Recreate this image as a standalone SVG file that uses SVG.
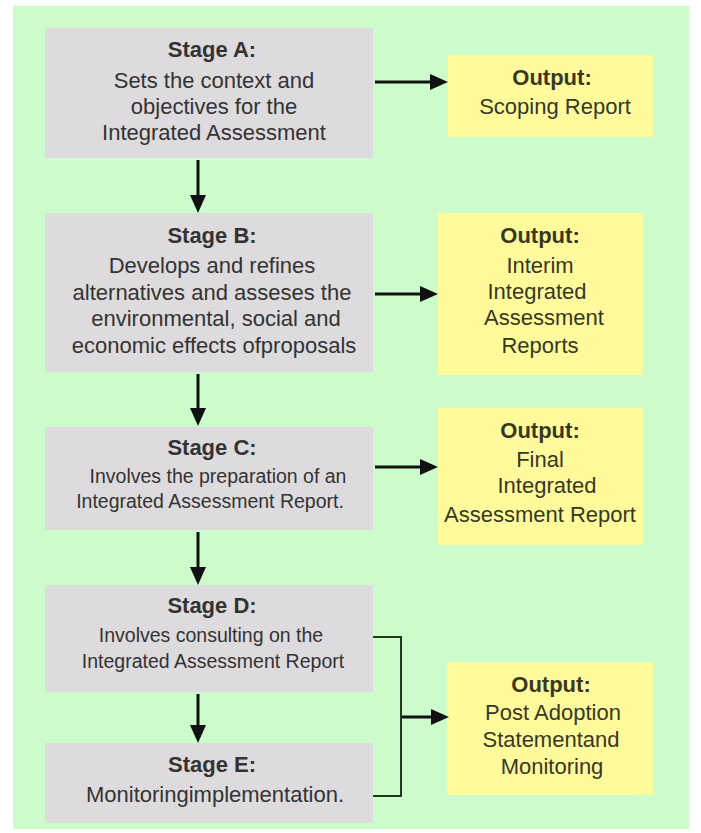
<svg xmlns="http://www.w3.org/2000/svg" width="701" height="833" viewBox="0 0 701 833">
<style>
.stage rect{fill:#dddbdd}
.out rect{fill:#fffb9c}
text{font-family:"Liberation Sans",Arial,sans-serif;text-anchor:middle;font-size:22px}
.stage text{fill:#333333}
.out text{fill:#38381f}
.b{font-weight:bold}
.s{font-size:19.5px}
.arr{stroke:#111;stroke-width:3;fill:none;marker-end:url(#ah)}
.brk{stroke:#1f3a1f;stroke-width:2;fill:none}
</style>
<defs>
<marker id="ah" markerUnits="userSpaceOnUse" markerWidth="18" markerHeight="16" refX="8" refY="8" orient="auto">
<path d="M0,0 L18,8 L0,16 z" fill="#111"/>
</marker>
</defs>
<rect x="0" y="0" width="701" height="833" fill="#ffffff"/>
<rect x="13" y="6" width="676" height="823" fill="#ccfccc"/>

<g id="stageA" class="stage">
<rect x="45" y="28" width="328" height="130"/>
<text x="212" y="57" class="b">Stage A:</text>
<text x="214" y="88">Sets the context and</text>
<text x="214" y="114">objectives for the</text>
<text x="214" y="140">Integrated Assessment</text>
</g>
<g id="outputA" class="out">
<rect x="448" y="55" width="205" height="82"/>
<text x="552" y="85" class="b">Output:</text>
<text x="555" y="114">Scoping Report</text>
</g>

<g id="stageB" class="stage">
<rect x="45" y="213" width="328" height="159"/>
<text x="212" y="243" class="b">Stage B:</text>
<text x="212" y="273">Develops and refines</text>
<text x="212" y="300">alternatives and asseses the</text>
<text x="216" y="326">environmental, social and</text>
<text x="214" y="353">economic effects ofproposals</text>
</g>
<g id="outputB" class="out">
<rect x="438" y="213" width="205" height="162"/>
<text x="540" y="243" class="b">Output:</text>
<text x="540" y="273">Interim</text>
<text x="537" y="299">Integrated</text>
<text x="544" y="325">Assessment</text>
<text x="540" y="353">Reports</text>
</g>

<g id="stageC" class="stage">
<rect x="45" y="427" width="328" height="103"/>
<text x="212" y="455" class="b">Stage C:</text>
<text x="218" y="483" class="s">Involves the preparation of an</text>
<text x="210" y="508" class="s">Integrated Assessment Report.</text>
</g>
<g id="outputC" class="out">
<rect x="438" y="408" width="205" height="137"/>
<text x="540" y="438" class="b">Output:</text>
<text x="540" y="467">Final</text>
<text x="547" y="493">Integrated</text>
<text x="540" y="522">Assessment Report</text>
</g>

<g id="stageD" class="stage">
<rect x="45" y="585" width="328" height="107"/>
<text x="212" y="613" class="b">Stage D:</text>
<text x="211" y="642" class="s">Involves consulting on the</text>
<text x="213" y="668" class="s">Integrated Assessment Report</text>
</g>

<g id="stageE" class="stage">
<rect x="45" y="743" width="328" height="80"/>
<text x="212" y="772" class="b">Stage E:</text>
<text x="215" y="802">Monitoringimplementation.</text>
</g>
<g id="outputDE" class="out">
<rect x="447" y="662" width="206" height="133"/>
<text x="551" y="692" class="b">Output:</text>
<text x="553" y="720">Post Adoption</text>
<text x="551" y="747">Statementand</text>
<text x="552" y="774">Monitoring</text>
</g>

<g id="connectors">
<line class="arr" x1="375" y1="82" x2="438" y2="82"/>
<line class="arr" x1="375" y1="294" x2="428" y2="294"/>
<line class="arr" x1="375" y1="467" x2="428" y2="467"/>
<line class="arr" x1="401" y1="717" x2="439" y2="717"/>
<line class="arr" x1="198" y1="160" x2="198" y2="203"/>
<line class="arr" x1="198" y1="374" x2="198" y2="416"/>
<line class="arr" x1="198" y1="532" x2="198" y2="575"/>
<line class="arr" x1="198" y1="694" x2="198" y2="733"/>
<polyline class="brk" points="373,637 401,637 401,796 373,796"/>
</g>
</svg>
